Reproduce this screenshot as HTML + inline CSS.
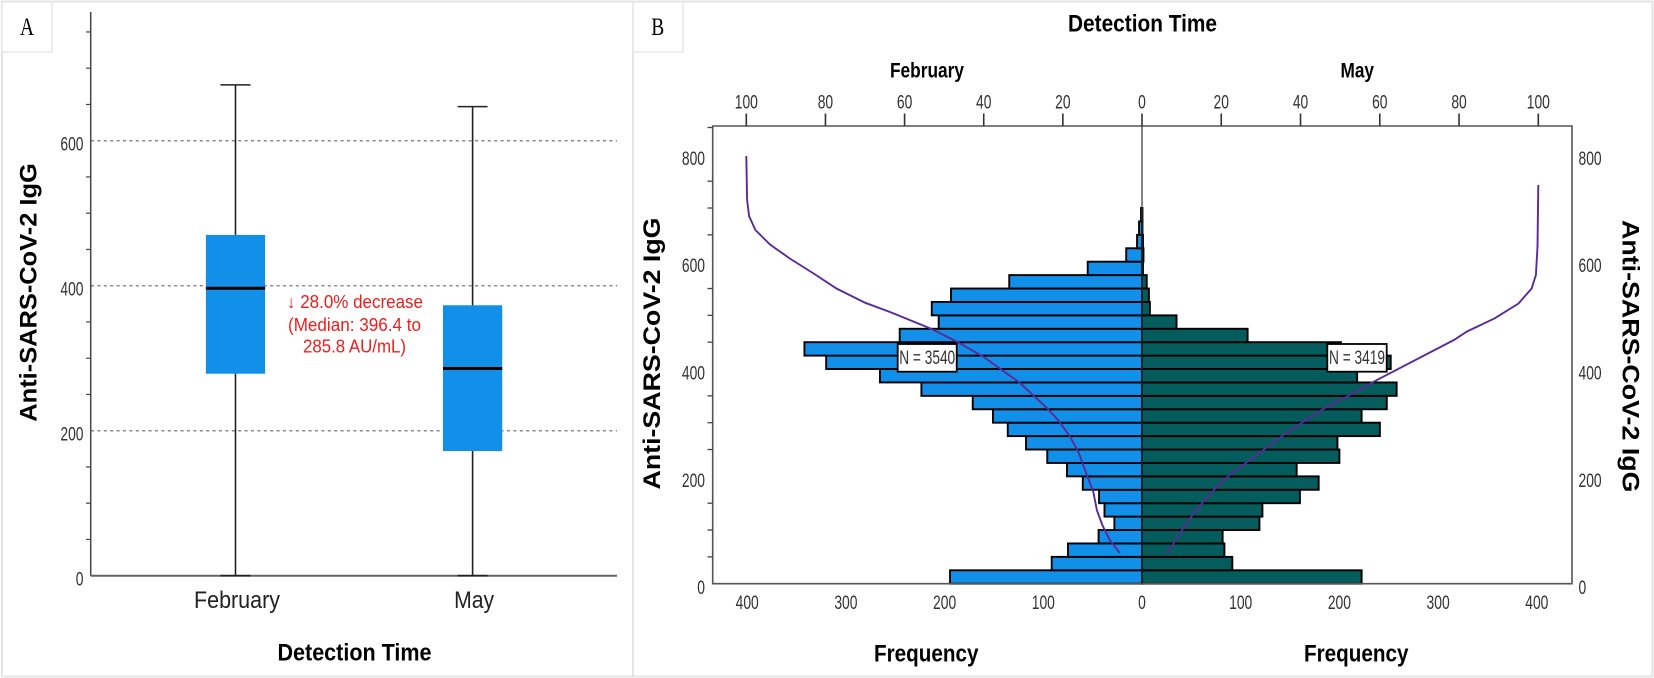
<!DOCTYPE html>
<html lang="en">
<head>
<meta charset="utf-8">
<title>Anti-SARS-CoV-2 IgG by detection time</title>
<style>
html,body{margin:0;padding:0;background:#fff;width:1654px;height:678px;overflow:hidden}
svg{display:block;font-family:"Liberation Sans",Arial,sans-serif}
.tick{font-size:19px;fill:#333}
.bold{font-weight:bold;fill:#000}
.red{font-size:18px;fill:#f01c1c}
</style>
</head>
<body>
<svg id="chart" xmlns="http://www.w3.org/2000/svg" width="1654" height="678" viewBox="0 0 1654 678">
  <rect x="0" y="0" width="1654" height="678" fill="#fff"/>
  <rect x="2" y="1.5" width="1650.5" height="675" fill="none" stroke="#e4e4e4" stroke-width="2"/>
  <line x1="633" y1="2" x2="633" y2="677" stroke="#e4e4e4" stroke-width="2"/>

  <g>
    <rect x="2" y="2" width="50" height="50" fill="#fff" stroke="#e8e8e8" stroke-width="1.5"/>
    <text x="27" y="35" text-anchor="middle" font-family="'Liberation Serif',serif" font-size="25" textLength="14" lengthAdjust="spacingAndGlyphs" fill="#000">A</text>
  </g>
  <g>
    <rect x="633" y="2" width="50" height="50" fill="#fff" stroke="#e8e8e8" stroke-width="1.5"/>
    <text x="657.7" y="35" text-anchor="middle" font-family="'Liberation Serif',serif" font-size="25" textLength="13" lengthAdjust="spacingAndGlyphs" fill="#000">B</text>
  </g>

  <g id="panelA"></g>
  <g id="panelB"></g>

  <text class="bold" font-size="24" textLength="258.5" lengthAdjust="spacingAndGlyphs" transform="translate(36.5,421.7) rotate(-90)">Anti-SARS-CoV-2 IgG</text>
  <text class="bold" font-size="24" x="277.5" y="660.5" textLength="154" lengthAdjust="spacingAndGlyphs">Detection Time</text>

  <g>
    <text class="red" x="287" y="308" textLength="136" lengthAdjust="spacingAndGlyphs">↓ 28.0% decrease</text>
    <text class="red" x="288" y="331" textLength="133" lengthAdjust="spacingAndGlyphs">(Median: 396.4 to</text>
    <text class="red" x="303" y="352.5" textLength="103" lengthAdjust="spacingAndGlyphs">285.8 AU/mL)</text>
  </g>

  <text class="bold" font-size="24" x="1068" y="31.5" textLength="149" lengthAdjust="spacingAndGlyphs">Detection Time</text>
  <text class="bold" font-size="21" x="890" y="77.5" textLength="74" lengthAdjust="spacingAndGlyphs">February</text>
  <text class="bold" font-size="21" x="1340.5" y="77.5" textLength="33.5" lengthAdjust="spacingAndGlyphs">May</text>
  <text class="bold" font-size="24" textLength="272" lengthAdjust="spacingAndGlyphs" transform="translate(660,489.5) rotate(-90)">Anti-SARS-CoV-2 IgG</text>
  <text class="bold" font-size="24" textLength="272.5" lengthAdjust="spacingAndGlyphs" transform="translate(1622.7,220) rotate(90)">Anti-SARS-CoV-2 IgG</text>
  <text class="bold" font-size="24" x="874" y="661.5" textLength="104.5" lengthAdjust="spacingAndGlyphs">Frequency</text>
  <text class="bold" font-size="24" x="1304" y="661.5" textLength="104.5" lengthAdjust="spacingAndGlyphs">Frequency</text>
</svg>

<script>
// Panel A data
const boxCategories = ["February", "May"];
const boxQ1 = [278.6, 172];
const boxMedian = [396.4, 285.8];
const boxQ3 = [470, 373];
const whiskerLow = [0, 0];
const whiskerHigh = [677, 647];
const panelAMajorTicks = [0, 200, 400, 600];
const panelAMinorTicks = [50, 100, 150, 250, 300, 350, 450, 500, 550, 650, 700, 750];

// Panel B data (bins of 25 AU/mL, lowest first)
const binWidth = 25;
const februaryCounts = [194.5, 91.5, 75, 44, 28, 38, 43.5, 60, 76, 96, 117.5, 136, 151, 171.5, 223.5, 265.5, 320, 342, 245.5, 206, 213, 193.5, 134.5, 55, 16, 5, 3, 1];
const mayCounts = [222.5, 91.5, 83.5, 81.7, 119, 122, 160, 179, 156.7, 200, 198, 241, 222.5, 248, 258, 218, 252, 201.6, 107, 35, 8, 7, 4.8, 1, 1.5, 1, 0.5, 0.5];
const frequencyTicks = [400, 300, 200, 100, 0];
const frequencyTicksRight = [100, 200, 300, 400];
const percentTicks = [100, 80, 60, 40, 20, 0];
const percentTicksRight = [20, 40, 60, 80, 100];
const panelBMajorTicks = [0, 200, 400, 600, 800];
const panelBMinorTicks = [50, 100, 150, 250, 300, 350, 450, 500, 550, 650, 700, 750, 850];
const februaryCurvePercent = [100, 99.8, 99.3, 97.7, 94, 89, 83, 77.2, 70, 62.9, 53.6, 46.8, 40.1, 35.9, 30.8, 24, 21.2, 18.2, 16.1, 14.4, 12.3, 11.4, 10, 8.1, 5.6];
const februaryCurveValue = [797, 715, 685, 659, 632, 606, 578, 550, 523.6, 504, 476, 451, 423, 401, 374, 327, 305, 274, 246, 212, 171, 137, 109, 81, 57];
const mayCurvePercent = [6.4, 10.4, 13.6, 18.9, 22.2, 29, 35.7, 40.8, 46.7, 53.4, 58.9, 78.7, 82, 89, 95, 98.3, 99.4, 99.8, 100];
const mayCurveValue = [57, 103, 137, 181, 203, 240, 277, 302, 330, 355, 378, 454, 470, 494.5, 522, 550, 575, 628, 743];
const februaryN = "N = 3540";
const mayN = "N = 3419";

const NS = "http://www.w3.org/2000/svg";
const panelA = document.getElementById("panelA");
const panelB = document.getElementById("panelB");

function mk(parent, tag, props, txt) {
  const e = document.createElementNS(NS, tag);
  for (const k in props) e.setAttribute(k, props[k]);
  if (txt !== undefined) e.textContent = txt;
  parent.appendChild(e);
  return e;
}
function tickText(parent, x, y, anchor, label) {
  return mk(parent, "text", {
    x: x, y: y, "text-anchor": anchor, "class": "tick",
    textLength: String(label).length * 7.7,
    lengthAdjust: "spacingAndGlyphs"
  }, label);
}

// Axis functions
const yA = v => 575.7 - v * 0.725;
const xA = i => 235.5 + i * 237.1;
const yB = v => 583.7 - v * 0.5367;
const xFeb = f => 1142 - f * 0.987;
const xMay = f => 1142 + f * 0.987;
const xFebPct = p => 1142 - p * 3.957;
const xMayPct = p => 1142 + p * 3.963;

// ---------- Panel A ----------
panelAMajorTicks.forEach(v => {
  if (v > 0) {
    const g = mk(panelA, "line", { x1: 91, x2: 617, y1: yA(v), y2: yA(v), stroke: "#888", "stroke-width": 1.5, "stroke-dasharray": "3 3.4" });
    
    
  }
  const t = tickText(panelA, 83.5, yA(v) + 10, "end", v);
  
  
});
panelAMinorTicks.forEach(v => {
  const t = mk(panelA, "line", { x1: 86, x2: 91, y1: yA(v), y2: yA(v), stroke: "#444", "stroke-width": 1.2 });
  
  
});
const axisAY = mk(panelA, "line", { x1: 90.7, x2: 90.7, y1: 12, y2: yA(0), stroke: "#444", "stroke-width": 1.5 });


const axisAX = mk(panelA, "line", { x1: 90.7, x2: 617, y1: yA(0), y2: yA(0), stroke: "#666", "stroke-width": 2 });



boxCategories.forEach((cat, i) => {
  const cx = xA(i);
  const whisker = mk(panelA, "line", { x1: cx, x2: cx, y1: yA(whiskerHigh[i]), y2: yA(whiskerLow[i]), stroke: "#222", "stroke-width": 1.6 });
  
  
  const capTop = mk(panelA, "line", { x1: cx - 15, x2: cx + 15, y1: yA(whiskerHigh[i]), y2: yA(whiskerHigh[i]), stroke: "#222", "stroke-width": 1.6 });
  
  
  const capBottom = mk(panelA, "line", { x1: cx - 15, x2: cx + 15, y1: yA(whiskerLow[i]), y2: yA(whiskerLow[i]), stroke: "#222", "stroke-width": 1.6 });
  
  
  const box = mk(panelA, "rect", { x: cx - 29.6, width: 59.2, y: yA(boxQ3[i]), height: yA(boxQ1[i]) - yA(boxQ3[i]), fill: "#118fe9" });
  
  
  const med = mk(panelA, "line", { x1: cx - 29.6, x2: cx + 29.6, y1: yA(boxMedian[i]), y2: yA(boxMedian[i]), stroke: "#000", "stroke-width": 3 });
  
  
  const label = mk(panelA, "text", {
    x: cx + 1.5, y: 608, "text-anchor": "middle", "font-size": 24, fill: "#222",
    textLength: i === 0 ? 86 : 40, lengthAdjust: "spacingAndGlyphs"
  }, cat);
  
  
});

// ---------- Panel B ----------
const binH = yB(0) - yB(binWidth);
februaryCounts.forEach((f, i) => {
  const bar = mk(panelB, "rect", { x: xFeb(f), width: xFeb(0) - xFeb(f), y: yB((i + 1) * binWidth), height: binH, fill: "#118fe9", stroke: "#000", "stroke-width": 1.9 });
  
  
});
mayCounts.forEach((f, i) => {
  const bar = mk(panelB, "rect", { x: xMay(0), width: xMay(f) - xMay(0), y: yB((i + 1) * binWidth), height: binH, fill: "#045c5c", stroke: "#000", "stroke-width": 1.9 });
  
  
});

const frame = mk(panelB, "path", { d: "M712.7 " + yB(0) + "V126H1572V" + yB(0) + "Z", fill: "none", stroke: "#555", "stroke-width": 1.6 });


const center = mk(panelB, "line", { x1: xFeb(0), x2: xFeb(0), y1: 126, y2: yB(0), stroke: "#333", "stroke-width": 1.2 });



percentTicks.forEach(p => {
  const t = mk(panelB, "line", { x1: xFebPct(p), x2: xFebPct(p), y1: 113.5, y2: 126, stroke: "#333", "stroke-width": 1.6 });
  
  
  const l = tickText(panelB, xFebPct(p), 108.5, "middle", p);
  
  
});
percentTicksRight.forEach(p => {
  const t = mk(panelB, "line", { x1: xMayPct(p), x2: xMayPct(p), y1: 113.5, y2: 126, stroke: "#333", "stroke-width": 1.6 });
  
  
  const l = tickText(panelB, xMayPct(p), 108.5, "middle", p);
  
  
});
frequencyTicks.forEach(f => {
  const l = tickText(panelB, xFeb(f), 609, "middle", f);
  
  
});
frequencyTicksRight.forEach(f => {
  const l = tickText(panelB, xMay(f), 609, "middle", f);
  
  
});
panelBMajorTicks.forEach(v => {
  const l = tickText(panelB, 705, yB(v) + 10.5, "end", v);
  
  
  const r = tickText(panelB, 1578.5, yB(v) + 10.5, "start", v);
  
  
});
panelBMinorTicks.forEach(v => {
  const t = mk(panelB, "line", { x1: 707.5, x2: 712.7, y1: yB(v), y2: yB(v), stroke: "#444", "stroke-width": 1.3 });
  
  
});

const febPts = februaryCurvePercent.map((p, i) => xFebPct(p).toFixed(1) + "," + yB(februaryCurveValue[i]).toFixed(1)).join(" ");
const febLine = mk(panelB, "polyline", { points: febPts, fill: "none", stroke: "#5a2a95", "stroke-width": 1.9 });


const mayPts = mayCurvePercent.map((p, i) => xMayPct(p).toFixed(1) + "," + yB(mayCurveValue[i]).toFixed(1)).join(" ");
const mayLine = mk(panelB, "polyline", { points: mayPts, fill: "none", stroke: "#5a2a95", "stroke-width": 1.9 });



const febBox = mk(panelB, "rect", { x: 897.7, y: 344, width: 59, height: 27.7, fill: "#fff", stroke: "#000", "stroke-width": 1.8 });


const febText = mk(panelB, "text", { x: 927.2, y: 364, "text-anchor": "middle", "class": "tick", textLength: 56, lengthAdjust: "spacingAndGlyphs" }, februaryN);


const mayBox = mk(panelB, "rect", { x: 1327.3, y: 344, width: 59.4, height: 27.7, fill: "#fff", stroke: "#000", "stroke-width": 1.8 });


const mayText = mk(panelB, "text", { x: 1357, y: 364, "text-anchor": "middle", "class": "tick", textLength: 56, lengthAdjust: "spacingAndGlyphs" }, mayN);


</script>
</body>
</html>
